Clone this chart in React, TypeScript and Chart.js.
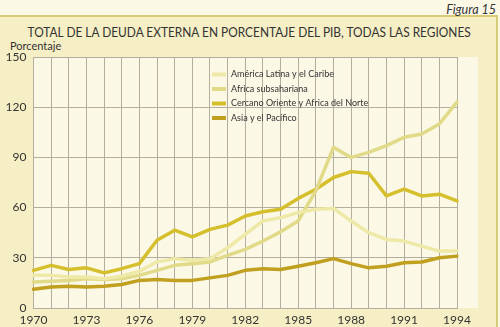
import React, { useEffect, useRef } from "react";
import { Chart, registerables } from "chart.js";

Chart.register(...registerables);

const years = [
  "1970","1971","1972","1973","1974","1975","1976","1977","1978","1979","1980","1981","1982",
  "1983","1984","1985","1986","1987","1988","1989","1990","1991","1992","1993","1994",
];

const americaLatina = [19.5, 19.5, 18.5, 18.5, 17.5, 19, 22, 27.5, 29.5, 28.5, 29.5, 36, 44, 52, 54, 57, 59, 59.5, 52, 45, 41, 40, 37, 34, 34];
const africaSub = [15.5, 16, 16.5, 17.5, 17, 17.5, 19.5, 22.5, 25.5, 26.5, 27.5, 31.5, 35, 40, 45.5, 52, 70, 96, 90, 93, 97, 102, 104, 110, 123];
const cercanoOriente = [22.5, 25.5, 23, 24, 21, 23.5, 26.5, 40.5, 46.5, 42.5, 47, 49.5, 55, 57.5, 59, 65.5, 71, 78, 81.5, 80.5, 67, 71, 67, 68, 64];
const asiaPacifico = [11.2, 12.5, 13, 12.5, 13, 14, 16.5, 17, 16.5, 16.5, 18, 19.5, 22.5, 23.5, 23, 25, 27, 29.5, 26.5, 24, 25, 27, 27.5, 30, 31];

const seriesLabels = [
  "América Latina y el Caribe",
  "Africa subsahariana",
  "Cercano Oriente y Africa del Norte",
  "Asia y el Pacífico",
];
const seriesColors = ["#efe9a8", "#e1da88", "#d5bf2c", "#c1a020"];

const yTicks = [0, 30, 60, 90, 120, 150];

const FONT = "Lato, 'Open Sans', sans-serif";

const bgPlugin = {
  id: "plotBg",
  beforeDraw(chart: any) {
    const { ctx, chartArea } = chart;
    ctx.save();
    ctx.fillStyle = "#fbf8e6";
    ctx.fillRect(chartArea.left, chartArea.top, chartArea.right + 21 - chartArea.left, chartArea.bottom - chartArea.top);
    ctx.restore();
  },
};

const legendPlugin = {
  id: "innerLegend",
  afterDatasetsDraw(chart: any) {
    const { ctx } = chart;
    ctx.save();
    chart.data.datasets.forEach((ds: any, i: number) => {
      const y = 74.5 + i * 14.5;
      ctx.strokeStyle = ds.borderColor;
      ctx.lineWidth = 4;
      ctx.beginPath();
      ctx.moveTo(212, y);
      ctx.lineTo(226, y);
      ctx.stroke();
      ctx.fillStyle = "#333";
      ctx.font = `9px ${FONT}`;
      ctx.textBaseline = "middle";
      ctx.textAlign = "left";
      ctx.fillText(ds.label, 231, y);
    });
    ctx.restore();
  },
};

function App() {
  const ref = useRef<HTMLCanvasElement | null>(null);
  useEffect(() => {
    document.body.style.margin = "0";
    const series = [americaLatina, africaSub, cercanoOriente, asiaPacifico];
    const chart = new Chart(ref.current!, {
      type: "line",
      data: {
        labels: years,
        datasets: series.map((d, i) => ({
          label: seriesLabels[i],
          data: d,
          borderColor: seriesColors[i],
          backgroundColor: seriesColors[i],
          borderWidth: 3.5,
          pointRadius: 0,
          tension: 0,
          borderJoinStyle: "round" as const,
          borderCapStyle: "round" as const,
        })),
      },
      options: {
        animation: false,
        responsive: false,
        devicePixelRatio: 1,
        layout: { padding: { left: 0, top: 57, right: 43, bottom: 0 } },
        plugins: { legend: { display: false }, tooltip: { enabled: false }, title: { display: false } },
        scales: {
          x: {
            type: "category",
            offset: false,
            grid: { color: "#b3ae9e", drawTicks: false },
            border: { color: "#b3ae9e" },
            ticks: {
              autoSkip: false,
              maxRotation: 0,
              padding: 5,
              color: "#333",
              font: { family: FONT, size: 12 },
              callback: (v: any, i: number) => (i % 3 === 0 ? years[i] : ""),
            },
            afterFit: (s: any) => {
              s.height = 19;
              s.paddingLeft = 0;
              s.paddingRight = 0;
            },
          },
          y: {
            min: 0,
            max: 150,
            afterBuildTicks: (s: any) => {
              s.ticks = yTicks.map((v) => ({ value: v }));
            },
            grid: { color: "#b3ae9e", drawTicks: false },
            border: { color: "#b3ae9e" },
            ticks: { padding: 7, color: "#333", font: { family: FONT, size: 12 } },
            afterFit: (s: any) => {
              s.width = 33.5;
              s.paddingTop = 0;
              s.paddingBottom = 0;
            },
          },
        },
      },
      plugins: [bgPlugin, legendPlugin],
    });
    return () => chart.destroy();
  }, []);

  return (
    <div style={{ position: "relative", width: 500, height: 327, overflow: "hidden", background: "#fcf8e6", fontFamily: FONT, color: "#333" }}>
      <div style={{ position: "absolute", left: -2, top: 15, width: 496, height: 320, border: "2px solid #d8cb78", background: "#f6eec4" }} />
      <div style={{ position: "absolute", right: 4, top: 2, fontSize: 12.5, fontStyle: "italic" }}>Figura 15</div>
      <div style={{ position: "absolute", left: 0, width: 498, top: 21, textAlign: "center", whiteSpace: "nowrap" }}>
        <span style={{ display: "inline-block", fontSize: 13, transform: "scaleX(0.915)", transformOrigin: "center" }}>
          TOTAL DE LA DEUDA EXTERNA EN PORCENTAJE DEL PIB, TODAS LAS REGIONES
        </span>
      </div>
      <div style={{ position: "absolute", left: 10, top: 39, fontSize: 11 }}>Porcentaje</div>
      <canvas ref={ref} width={500} height={327} style={{ position: "absolute", left: 0, top: 0 }} />
    </div>
  );
}

export default App;
